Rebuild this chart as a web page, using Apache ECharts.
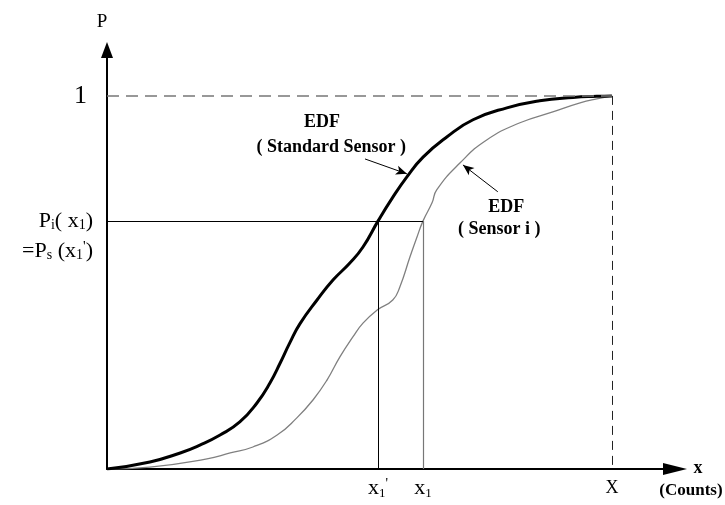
<!DOCTYPE html>
<html><head><meta charset="utf-8">
<script src="https://cdn.jsdelivr.net/npm/echarts@6/dist/echarts.min.js"></script>
<style>html,body{margin:0;padding:0;background:#fff}#c{width:725px;height:505px}</style>
</head><body><div id="c"></div>
<script>
// Standard sensor EDF (thick black)
const stdX = [0, 8.5, 14.5, 18.4, 22.4, 26.3, 29.7, 32.3, 34.3, 36.2, 38.2, 41.6, 44.8, 48.1, 50.7, 53.7, 56.4, 59.4, 62.6, 67.3, 72.5, 79.2, 85.7, 92.3, 97.0, 100];
const stdY = [0, 0.019, 0.043, 0.064, 0.091, 0.126, 0.177, 0.231, 0.284, 0.338, 0.389, 0.453, 0.507, 0.552, 0.595, 0.665, 0.724, 0.783, 0.836, 0.890, 0.936, 0.968, 0.987, 0.996, 0.999, 1];
// Sensor i EDF (thin grey)
const sensorX = [0, 8.5, 19.8, 24.4, 28.9, 33.7, 37.6, 40.8, 43.6, 46.1, 48.7, 50.7, 53.5, 56.6, 58.0, 60.0, 61.4, 62.6, 64.4, 65.3, 69.9, 75.2, 81.8, 88.3, 93.7, 97.0, 100];
const sensorY = [0, 0.005, 0.027, 0.043, 0.059, 0.091, 0.137, 0.185, 0.239, 0.300, 0.354, 0.391, 0.426, 0.453, 0.488, 0.568, 0.622, 0.665, 0.714, 0.748, 0.820, 0.882, 0.928, 0.957, 0.981, 0.992, 1];
// key values
const xMaxCount = 100;     // X
const x1Prime = 53.7;      // x1'
const x1 = 62.6;           // x1
const pLevel = 0.665;      // Pi(x1) = Ps(x1')
const pMax = 1;
// tick labels
const xTickValues = [x1Prime, x1, xMaxCount];
const xTickLabels = ["{xt|x}{xs|1}{xp|'}", "{xt|x}{xs|1}", "{cap|X}"];
const yTickValues = [pLevel, pMax];
const yTickLabels = ["{t|P}{s|i}{t|( x}{s|1}{t|)}\n{t|=P}{s|s}{t| (x}{s|1}{p|'}{t|)}", "{one|1}"];

const SERIF = '"Liberation Serif", "DejaVu Serif", serif';
const rich = {
  t: {fontFamily: SERIF, fontSize: 22, color: '#000', lineHeight: 30, verticalAlign: 'middle'},
  s: {fontFamily: SERIF, fontSize: 14, color: '#000', lineHeight: 22, height: 22, verticalAlign: 'bottom'},
  p: {fontFamily: SERIF, fontSize: 15, color: '#000', lineHeight: 22, height: 22, verticalAlign: 'top'},
  one: {fontFamily: SERIF, fontSize: 26, color: '#000', lineHeight: 27},
  xt: {fontFamily: SERIF, fontSize: 22, color: '#000', lineHeight: 22, verticalAlign: 'middle'},
  xs: {fontFamily: SERIF, fontSize: 13, color: '#000', lineHeight: 10, height: 10, verticalAlign: 'bottom'},
  xp: {fontFamily: SERIF, fontSize: 14, color: '#000', lineHeight: 14, height: 14, verticalAlign: 'top'},
  cap: {fontFamily: SERIF, fontSize: 18, color: '#000', lineHeight: 22, verticalAlign: 'middle'}
};
function pick(vals, labels, v) {
  let best = 0;
  for (let i = 1; i < vals.length; i++) if (Math.abs(vals[i] - v) < Math.abs(vals[best] - v)) best = i;
  return labels[best];
}
const zip = (a, b) => a.map((v, i) => [v, b[i]]);

const chart = echarts.init(document.getElementById('c'), null, {renderer: 'canvas'});
const option = {
  animation: false,
  backgroundColor: '#fff',
  grid: {left: 107, right: 50, top: 50, bottom: 36, containLabel: false},
  xAxis: {
    type: 'value', min: 0, max: 112.5,
    axisLine: {show: true, lineStyle: {color: '#000', width: 2}, symbol: ['none', 'triangle'], symbolSize: [12, 24]},
    axisTick: {show: false},
    splitLine: {show: false},
    axisLabel: {customValues: xTickValues, margin: 8, rich: rich, formatter: v => pick(xTickValues, xTickLabels, v)}
  },
  yAxis: {
    type: 'value', min: 0, max: 1.123,
    axisLine: {show: true, lineStyle: {color: '#000', width: 2}, symbol: ['none', 'triangle'], symbolSize: [12, 16]},
    axisTick: {show: false},
    splitLine: {show: false},
    // the two-line label for pLevel is drawn as a graphic below, so its first line sits on the tick
    axisLabel: {customValues: yTickValues, margin: 20, rich: rich,
      formatter: v => (Math.abs(v - pMax) < 1e-6 ? yTickLabels[1] : '')}
  },
  series: [
    {
      type: 'line', name: 'refs', data: [], silent: true,
      markLine: {
        silent: true, symbol: ['none', 'none'], label: {show: false}, animation: false,
        data: [
          [{coord: [0, pMax], lineStyle: {color: '#777', width: 1.5, type: [12, 7]}}, {coord: [xMaxCount, pMax]}],
          [{coord: [xMaxCount, pMax], lineStyle: {color: '#222', width: 1, type: [9, 6]}}, {coord: [xMaxCount, 0]}],
          [{coord: [0, pLevel], lineStyle: {color: '#000', width: 1, type: 'solid'}}, {coord: [x1, pLevel]}],
          [{coord: [x1Prime, pLevel], lineStyle: {color: '#000', width: 1, type: 'solid'}}, {coord: [x1Prime, 0]}],
          [{coord: [x1, pLevel], lineStyle: {color: '#777', width: 1.2, type: 'solid'}}, {coord: [x1, 0]}]
        ]
      }
    },
    {
      type: 'line', name: 'Sensor i', data: zip(sensorX, sensorY), smooth: 0.5, showSymbol: false,
      lineStyle: {color: '#808080', width: 1.3}, z: 3
    },
    {
      type: 'line', name: 'Standard Sensor', data: zip(stdX, stdY), smooth: 0.5, showSymbol: false,
      lineStyle: {color: '#000', width: 3}, z: 4
    },
    {
      type: 'line', name: 'arrows', data: [], silent: true,
      markLine: {
        silent: true, symbol: ['none', 'arrow'], symbolSize: [7, 11], label: {show: false}, animation: false,
        lineStyle: {color: '#000', width: 1, type: 'solid'},
        data: [
          [{coord: [51.1, 0.831]}, {coord: [59.4, 0.791]}],
          [{coord: [77.4, 0.743]}, {coord: [70.5, 0.815]}]
        ]
      }
    }
  ]
};
chart.setOption(option);

const boldFont = 'bold 18px ' + SERIF;
const notes = [
  {text: 'EDF', at: [42.6, 0.930], font: boldFont},
  {text: '( Standard Sensor )', at: [44.4, 0.862], font: boldFont},
  {text: 'EDF', at: [79.1, 0.702], font: boldFont},
  {text: '( Sensor i )', at: [77.7, 0.643], font: boldFont}
];
const g = notes.map(n => {
  const p = chart.convertToPixel({gridIndex: 0}, n.at);
  return {type: 'text', x: p[0], y: p[1], silent: true,
    style: {text: n.text, font: n.font, fill: '#000', textAlign: 'center', textVerticalAlign: 'middle'}};
});
const pl = chart.convertToPixel({gridIndex: 0}, [0, pLevel]);
g.push({type: 'text', x: pl[0] - 14, y: pl[1] - 15, silent: true,
  style: {text: yTickLabels[0], rich: rich, textAlign: 'right', textVerticalAlign: 'top'}});
g.push({type: 'text', x: 102, y: 22, style: {text: 'P', font: '19px ' + SERIF, fill: '#000', textAlign: 'center', textVerticalAlign: 'middle'}});
g.push({type: 'text', x: 698, y: 468, style: {text: 'x', font: boldFont, fill: '#000', textAlign: 'center', textVerticalAlign: 'middle'}});
g.push({type: 'text', x: 691, y: 491, style: {text: '(Counts)', font: 'bold 17px ' + SERIF, fill: '#000', textAlign: 'center', textVerticalAlign: 'middle'}});
chart.setOption({graphic: g});
</script>
</body></html>
